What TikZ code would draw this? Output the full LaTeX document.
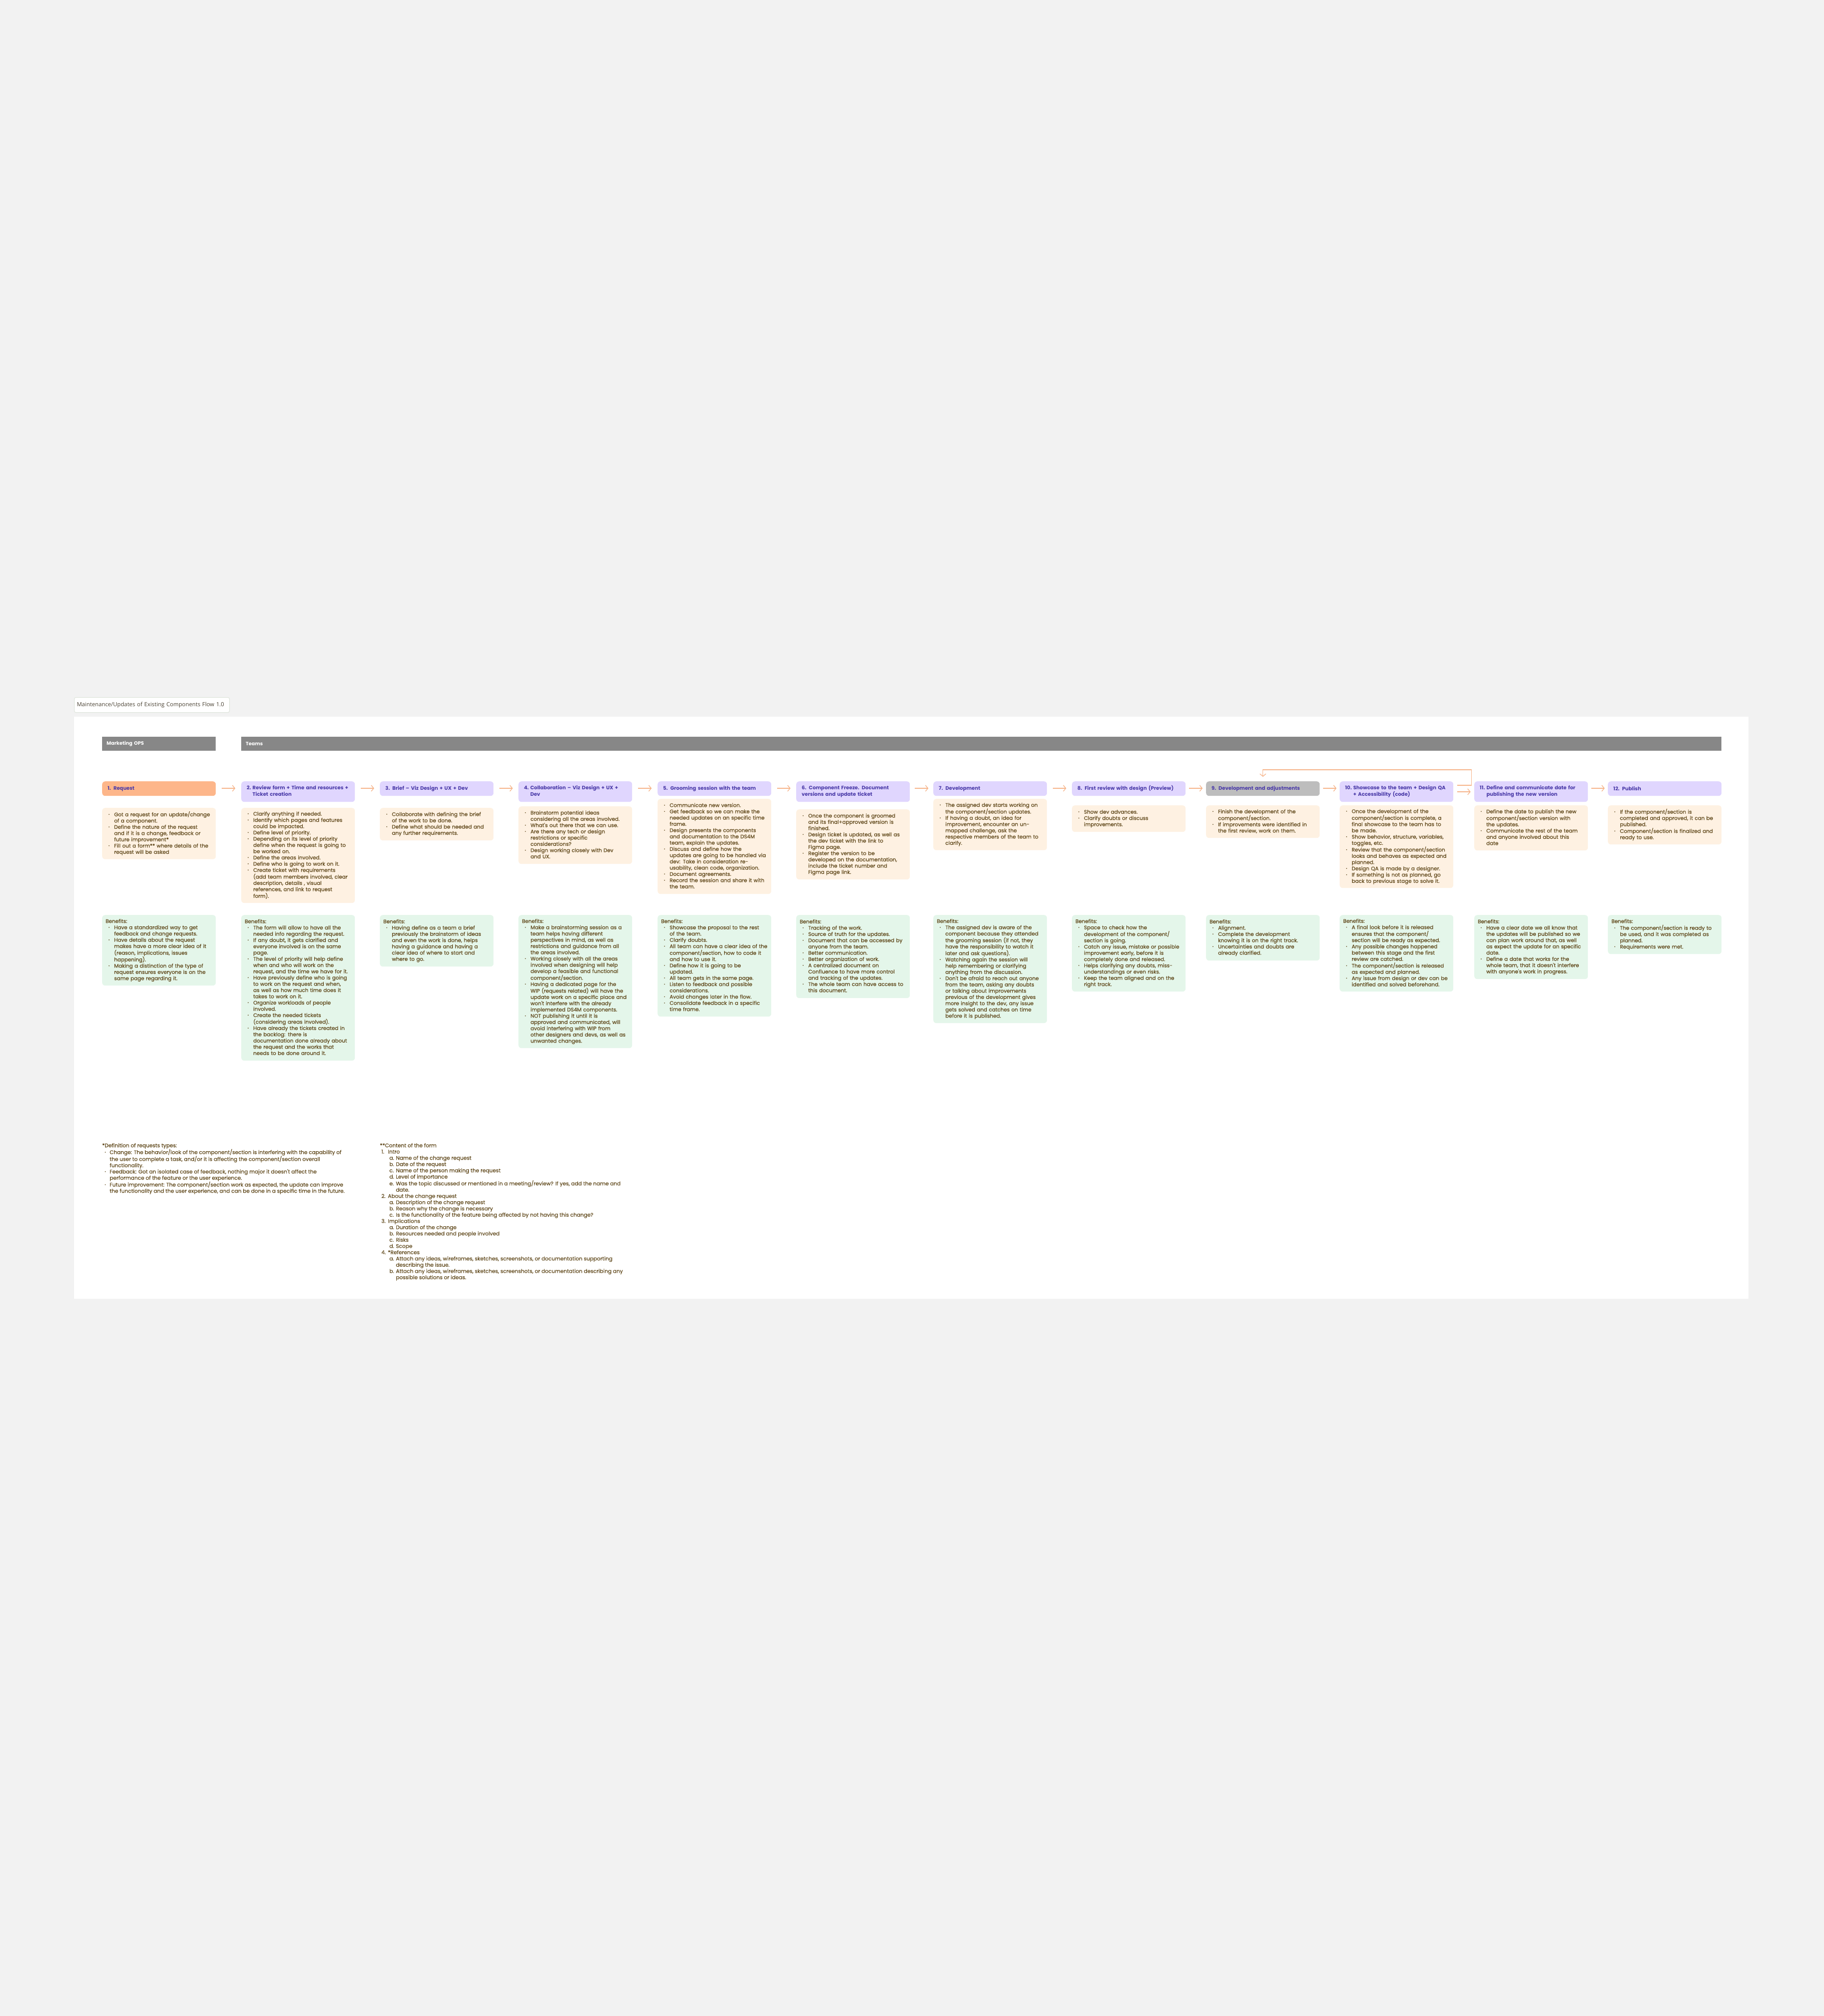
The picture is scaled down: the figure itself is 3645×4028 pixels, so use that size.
\documentclass[tikz,border=0pt]{standalone}
\usepackage{fontspec}
\setmainfont{Poppins}
\newfontfamily\bodyfont{Poppins}[FakeBold=0.6]
\newfontfamily\notefont{Poppins}[FakeBold=0.25]
\newfontfamily\titlefont{Open Sans}
\usetikzlibrary{arrows.meta,calc}
\definecolor{pagebg}{HTML}{F2F2F2}
\definecolor{hdr}{HTML}{878787}
\definecolor{lav}{HTML}{E0D6FE}
\definecolor{salmon}{HTML}{FDB68A}
\definecolor{stepgray}{HTML}{BDBDBD}
\definecolor{cream}{HTML}{FEF1E2}
\definecolor{mint}{HTML}{E4F6EA}
\definecolor{txt}{HTML}{5E4618}
\definecolor{ind}{HTML}{4A3AA8}
\definecolor{arr}{HTML}{F6B48A}
\definecolor{ttl}{HTML}{4A4233}
\definecolor{ttlborder}{HTML}{DDE4DA}
\newcommand\bul{\hspace*{5.5pt}\makebox[11.5pt][l]{\raisebox{1.7pt}{\fontsize{6}{6}\selectfont\textbullet}}}
\newcommand\contl{\hspace*{17pt}}
\newcommand\nbul{\hspace*{5pt}\makebox[10pt][l]{\raisebox{1.7pt}{\fontsize{6}{6}\selectfont\textbullet}}}
\newcommand\ncont{\hspace*{15pt}}
\newcommand\lines[1]{\begin{tabular}{@{}l@{}}#1\end{tabular}}
\newcommand\steptwo[3]{\begin{tabular}{@{}l@{\hspace{0.3em}}l@{}}#1&#2\\&#3\end{tabular}}
\newcommand\numit[1]{\hspace*{3pt}\makebox[13pt][l]{#1}}
\newcommand\letit[1]{\hspace*{19pt}\makebox[13pt][l]{#1}}
\newcommand\letcont{\hspace*{32pt}}
\tikzset{
  basebox/.style={rectangle, rounded corners=6pt, anchor=north west, minimum width=227pt, text width=213pt, inner xsep=7pt, inner ysep=0pt, align=left, font=\bodyfont\fontsize{10.3}{12.5}\selectfont, text=txt},
  contentbox/.style={basebox, fill=cream},
  benefitbox/.style={basebox, fill=mint},
  stepbox/.style={basebox, fill=lav, text=ind, inner xsep=11pt, text width=205pt, font=\bfseries\fontsize{10}{12.5}\selectfont},
  hdrbox/.style={rectangle, anchor=north west, fill=hdr, minimum height=28pt, text=white, inner xsep=9pt, inner ysep=0pt, align=left, font=\bfseries\fontsize{9.7}{11}\selectfont},
  canvasbox/.style={rectangle, anchor=north west, fill=white, inner sep=0pt, minimum width=3346pt, minimum height=1163pt},
  titlebox/.style={rectangle, anchor=north west, fill=white, draw=ttlborder, line width=1pt, rounded corners=3pt, minimum width=310pt, minimum height=30pt, text width=300pt, inner xsep=5pt, inner ysep=0pt, align=left, text=ttl, font=\titlefont\fontsize{11.3}{13}\selectfont},
  flow/.style={draw=arr, line width=1.3pt, -{Straight Barb[length=5pt,width=12pt]}},
  note/.style={anchor=north west, inner sep=0pt, align=left, text=txt, font=\notefont\fontsize{10.5}{12.5}\selectfont},
}
\begin{document}
\begin{tikzpicture}[x=1pt,y=-1pt]
\fill[pagebg] (0,0) rectangle (3645,4028);
\node[canvasbox] (canvas) at (148,1432) {};
\node[titlebox] (title) at (148,1393) {Maintenance/Updates of Existing Components Flow 1.0};
\node[hdrbox, minimum width=227pt, text width=209pt] (hmk) at (204,1472) {Marketing OPS};
\node[hdrbox, minimum width=2958pt, text width=2940pt] (hteams) at (482,1472) {Teams};
% steps
\node[stepbox, fill=salmon, minimum height=29pt] (s1) at (204,1561) {1. Request};
\node[stepbox, minimum height=41pt] (s2) at (482,1561) {\steptwo{2.}{Review form + Time and resources +}{Ticket creation}};
\node[stepbox, minimum height=29pt] (s3) at (759,1561) {3. Brief – Viz Design + UX + Dev};
\node[stepbox, minimum height=41pt] (s4) at (1036,1561) {\steptwo{4.}{Collaboration – Viz Design + UX +}{Dev}};
\node[stepbox, minimum height=29pt] (s5) at (1314,1561) {5. Grooming session with the team};
\node[stepbox, minimum height=41pt] (s6) at (1591,1561) {\lines{6. Component Freeze. Document\\versions and update ticket}};
\node[stepbox, minimum height=29pt] (s7) at (1865,1561) {7. Development};
\node[stepbox, minimum height=29pt] (s8) at (2142,1561) {8. First review with design (Preview)};
\node[stepbox, fill=stepgray, minimum height=29pt] (s9) at (2410,1561) {9. Development and adjustments};
\node[stepbox, minimum height=41pt] (s10) at (2677,1561) {\steptwo{10.}{Showcase to the team + Design QA}{+ Accessibility (code)}};
\node[stepbox, minimum height=41pt] (s11) at (2946,1561) {\steptwo{11.}{Define and communicate date for}{publishing the new version}};
\node[stepbox, minimum height=29pt] (s12) at (3213,1561) {12. Publish};
% content boxes
\node[contentbox, minimum height=102.5pt] (c1) at (204,1614) {\lines{\bul Got a request for an update/change\\\contl of a component.\\\bul Define the nature of the request\\\contl and if it is a change, feedback or\\\contl future improvement*\\\bul Fill out a form** where details of the\\\contl request will be asked}};
\node[contentbox, minimum height=190pt] (c2) at (482,1614) {\lines{\bul Clarify anything if needed.\\\bul Identify which pages and features\\\contl could be impacted.\\\bul Define level of priority.\\\bul Depending on its level of priority\\\contl define when the request is going to\\\contl be worked on.\\\bul Define the areas involved.\\\bul Define who is going to work on it.\\\bul Create ticket with requirements\\\contl (add team members involved, clear\\\contl description, details , visual\\\contl references, and link to request\\\contl form).}};
\node[contentbox, minimum height=65pt] (c3) at (759,1614) {\lines{\bul Collaborate with defining the brief\\\contl of the work to be done.\\\bul Define what should be needed and\\\contl any further requirements.}};
\node[contentbox, minimum height=115pt] (c4) at (1036,1611) {\lines{\bul Brainstorm potential ideas\\\contl considering all the areas involved.\\\bul What's out there that we can use.\\\bul Are there any tech or design\\\contl restrictions or specific\\\contl considerations?\\\bul Design working closely with Dev\\\contl and UX.}};
\node[contentbox, minimum height=190pt] (c5) at (1314,1596) {\lines{\bul Communicate new version.\\\bul Get feedback so we can make the\\\contl needed updates on an specific time\\\contl frame.\\\bul Design presents the components\\\contl and documentation to the DS4M\\\contl team, explain the updates.\\\bul Discuss and define how the\\\contl updates are going to be handled via\\\contl dev: Take in consideration re-\\\contl usability, clean code, organization.\\\bul Document agreements.\\\bul Record the session and share it with\\\contl the team.}};
\node[contentbox, minimum height=140pt] (c6) at (1591,1617) {\lines{\bul Once the component is groomed\\\contl and its final+approved version is\\\contl finished.\\\bul Design ticket is updated, as well as\\\contl the dev ticket with the link to\\\contl Figma page.\\\bul Register the version to be\\\contl developed on the documentation,\\\contl include the ticket number and\\\contl Figma page link.}};
\node[contentbox, minimum height=102.5pt] (c7) at (1865,1596) {\lines{\bul The assigned dev starts working on\\\contl the component/section updates.\\\bul If having a doubt, an idea for\\\contl improvement, encounter an un-\\\contl mapped challenge, ask the\\\contl respective members of the team to\\\contl clarify.}};
\node[contentbox, minimum height=53pt] (c8) at (2142,1609) {\lines{\bul Show dev advances.\\\bul Clarify doubts or discuss\\\contl improvements.}};
\node[contentbox, minimum height=65pt] (c9) at (2410,1609) {\lines{\bul Finish the development of the\\\contl component/section.\\\bul If improvements were identified in\\\contl the first review, work on them.}};
\node[contentbox, minimum height=165pt] (c10) at (2677,1609) {\lines{\bul Once the development of the\\\contl component/section is complete, a\\\contl final showcase to the team has to\\\contl be made.\\\bul Show behavior, structure, variables,\\\contl toggles, etc.\\\bul Review that the component/section\\\contl looks and behaves as expected and\\\contl planned.\\\bul Design QA is made by a designer.\\\bul If something is not as planned, go\\\contl back to previous stage to solve it.}};
\node[contentbox, minimum height=90pt] (c11) at (2946,1609) {\lines{\bul Define the date to publish the new\\\contl component/section version with\\\contl the updates.\\\bul Communicate the rest of the team\\\contl and anyone involved about this\\\contl date}};
\node[contentbox, minimum height=78pt] (c12) at (3213,1609) {\lines{\bul If the component/section is\\\contl completed and approved, it can be\\\contl published.\\\bul Component/section is finalized and\\\contl ready to use.}};
% benefit boxes
\node[benefitbox, minimum height=141pt] (b1) at (204,1828) {\lines{Benefits:\\\bul Have a standardized way to get\\\contl feedback and change requests.\\\bul Have details about the request\\\contl makes have a more clear idea of it\\\contl (reason, implications, issues\\\contl happening).\\\bul Making a distinction of the type of\\\contl request ensures everyone is on the\\\contl same page regarding it.}};
\node[benefitbox, minimum height=291pt] (b2) at (482,1828) {\lines{Benefits:\\\bul The form will allow to have all the\\\contl needed info regarding the request.\\\bul If any doubt, it gets clarified and\\\contl everyone involved is on the same\\\contl page.\\\bul The level of priority will help define\\\contl when and who will work on the\\\contl request, and the time we have for it.\\\bul Have previously define who is going\\\contl to work on the request and when,\\\contl as well as how much time does it\\\contl takes to work on it.\\\bul Organize workloads of people\\\contl involved.\\\bul Create the needed tickets\\\contl (considering areas involved).\\\bul Have already the tickets created in\\\contl the backlog: there is\\\contl documentation done already about\\\contl the request and the works that\\\contl needs to be done around it.}};
\node[benefitbox, minimum height=103pt] (b3) at (759,1828) {\lines{Benefits:\\\bul Having define as a team a brief\\\contl previously the brainstorm of ideas\\\contl and even the work is done, helps\\\contl having a guidance and having a\\\contl clear idea of where to start and\\\contl where to go.}};
\node[benefitbox, minimum height=266pt] (b4) at (1036,1828) {\lines{Benefits:\\\bul Make a brainstorming session as a\\\contl team helps having different\\\contl perspectives in mind, as well as\\\contl restrictions and guidance from all\\\contl the areas involved.\\\bul Working closely with all the areas\\\contl involved when designing will help\\\contl develop a feasible and functional\\\contl component/section.\\\bul Having a dedicated page for the\\\contl WIP (requests related) will have the\\\contl update work on a specific place and\\\contl won't interfere with the already\\\contl implemented DS4M components.\\\bul NOT publishing it until it is\\\contl approved and communicated, will\\\contl avoid interfering with WIP from\\\contl other designers and devs, as well as\\\contl unwanted changes.}};
\node[benefitbox, minimum height=203pt] (b5) at (1314,1828) {\lines{Benefits:\\\bul Showcase the proposal to the rest\\\contl of the team.\\\bul Clarify doubts.\\\bul All team can have a clear idea of the\\\contl component/section, how to code it\\\contl and how to use it.\\\bul Define how it is going to be\\\contl updated.\\\bul All team gets in the same page.\\\bul Listen to feedback and possible\\\contl considerations.\\\bul Avoid changes later in the flow.\\\bul Consolidate feedback in a specific\\\contl time frame.}};
\node[benefitbox, minimum height=166pt] (b6) at (1591,1828) {\lines{Benefits:\\\bul Tracking of the work.\\\bul Source of truth for the updates.\\\bul Document that can be accessed by\\\contl anyone from the team.\\\bul Better communication.\\\bul Better organization of work.\\\bul A centralized document on\\\contl Confluence to have more control\\\contl and tracking of the updates.\\\bul The whole team can have access to\\\contl this document.}};
\node[benefitbox, minimum height=216pt] (b7) at (1865,1828) {\lines{Benefits:\\\bul The assigned dev is aware of the\\\contl component because they attended\\\contl the grooming session (if not, they\\\contl have the responsibility to watch it\\\contl later and ask questions).\\\bul Watching again the session will\\\contl help remembering or clarifying\\\contl anything from the discussion.\\\bul Don't be afraid to reach out anyone\\\contl from the team, asking any doubts\\\contl or talking about improvements\\\contl previous of the development gives\\\contl more insight to the dev, any issue\\\contl gets solved and catches on time\\\contl before it is published.}};
\node[benefitbox, minimum height=153pt] (b8) at (2142,1828) {\lines{Benefits:\\\bul Space to check how the\\\contl development of the component/\\\contl section is going.\\\bul Catch any issue, mistake or possible\\\contl improvement early, before it is\\\contl completely done and released.\\\bul Helps clarifying any doubts, miss-\\\contl understandings or even risks.\\\bul Keep the team aligned and on the\\\contl right track.}};
\node[benefitbox, minimum height=91pt] (b9) at (2410,1828) {\lines{Benefits:\\\bul Alignment.\\\bul Complete the development\\\contl knowing it is on the right track.\\\bul Uncertainties and doubts are\\\contl already clarified.}};
\node[benefitbox, minimum height=153pt] (b10) at (2677,1828) {\lines{Benefits:\\\bul A final look before it is released\\\contl ensures that the component/\\\contl section will be ready as expected.\\\bul Any possible changes happened\\\contl between this stage and the first\\\contl review are catched.\\\bul The component/section is released\\\contl as expected and planned.\\\bul Any issue from design or dev can be\\\contl identified and solved beforehand.}};
\node[benefitbox, minimum height=128pt] (b11) at (2946,1828) {\lines{Benefits:\\\bul Have a clear date we all know that\\\contl the updates will be published so we\\\contl can plan work around that, as well\\\contl as expect the update for an specific\\\contl date.\\\bul Define a date that works for the\\\contl whole team, that it doesn't interfere\\\contl with anyone's work in progress.}};
\node[benefitbox, minimum height=78pt] (b12) at (3213,1828) {\lines{Benefits:\\\bul The component/section is ready to\\\contl be used, and it was completed as\\\contl planned.\\\bul Requirements were met.}};
% flow arrows
\foreach \a/\b in {s1/s2,s2/s3,s3/s4,s4/s5,s5/s6,s6/s7,s7/s8,s8/s9,s9/s10,s11/s12}
  \draw[flow] ($(\a.north east)!0.5!(\b.north west)+(-13.5,14)$) -- ($(\a.north east)!0.5!(\b.north west)+(13.5,14)$);
\draw[flow] ($(s10.north east)!0.5!(s11.north west)+(-13.5,21)$) -- ($(s10.north east)!0.5!(s11.north west)+(13.5,21)$);
\draw[flow] ($(s10.north east)!0.5!(s11.north west)+(-13,8)$) -| ($(s10.north east)!0.5!(s11.north west)+(15,-23)$) -| ($(s9.north)+(0,-9)$);
% notes
\node[note] (n1) at (204,2284) {*Definition of requests types:\\
\nbul Change: The behavior/look of the component/section is interfering with the capability of\\
\ncont the user to complete a task, and/or it is affecting the component/section overall\\
\ncont functionality.\\
\nbul Feedback: Got an isolated case of feedback, nothing major it doesn't affect the\\
\ncont performance of the feature or the user experience.\\
\nbul Future improvement: The component/section work as expected, the update can improve\\
\ncont the functionality and the user experience, and can be done in a specific time in the future.};
\node[note] (n2) at (759,2284) {**Content of the form\\
\numit{1.}Intro\\
\letit{a.}Name of the change request\\
\letit{b.}Date of the request\\
\letit{c.}Name of the person making the request\\
\letit{d.}Level of importance\\
\letit{e.}Was the topic discussed or mentioned in a meeting/review? If yes, add the name and\\
\letcont date.\\
\numit{2.}About the change request\\
\letit{a.}Description of the change request\\
\letit{b.}Reason why the change is necessary\\
\letit{c.}Is the functionality of the feature being affected by not having this change?\\
\numit{3.}Implications\\
\letit{a.}Duration of the change\\
\letit{b.}Resources needed and people involved\\
\letit{c.}Risks\\
\letit{d.}Scope\\
\numit{4.}*References\\
\letit{a.}Attach any ideas, wireframes, sketches, screenshots, or documentation supporting\\
\letcont describing the issue.\\
\letit{b.}Attach any ideas, wireframes, sketches, screenshots, or documentation describing any\\
\letcont possible solutions or ideas.};
\end{tikzpicture}
\end{document}
